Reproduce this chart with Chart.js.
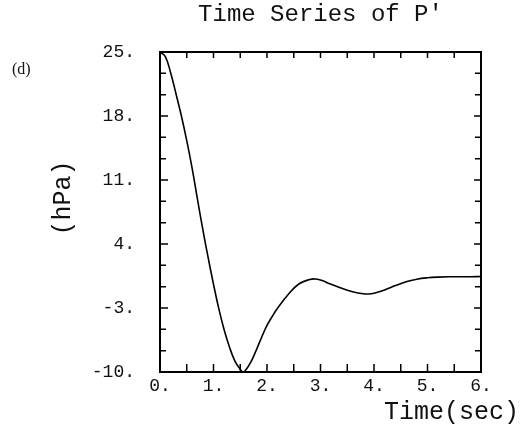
<!DOCTYPE html>
<html>
<head>
<meta charset="utf-8">
<script src="https://cdn.jsdelivr.net/npm/chart.js@4/dist/chart.umd.min.js"></script>
<style>
  html, body { margin: 0; padding: 0; background: #fff; }
  #wrap { width: 530px; height: 439px; }
</style>
</head>
<body>
<div id="wrap"><canvas id="chart" width="530" height="439"></canvas></div>
<script>
// time (sec) and pressure perturbation P' (hPa)
const timeSec = [0, 0.1, 0.2, 0.3, 0.4, 0.5, 0.6, 0.7, 0.8, 0.9, 1.0, 1.1, 1.2, 1.3, 1.4, 1.5, 1.55,
                 1.6, 1.7, 1.8, 1.9, 2.0, 2.1, 2.2, 2.4, 2.6, 2.8, 2.9, 3.0, 3.2, 3.4, 3.6, 3.8, 3.9, 4.0,
                 4.2, 4.4, 4.6, 4.8, 5.0, 5.2, 5.4, 5.8, 6.0];
const pressure = [25.0, 24.5, 22.7, 20.4, 18.0, 15.3, 12.3, 8.9, 5.6, 2.5, -0.4, -3.1, -5.4, -7.3, -8.8, -9.7, -10.0,
                  -9.8, -8.9, -7.6, -6.2, -4.9, -3.9, -3.0, -1.5, -0.35, 0.12, 0.18, 0.05, -0.4, -0.85, -1.22, -1.45, -1.47, -1.38,
                  -1.02, -0.55, -0.12, 0.15, 0.3, 0.38, 0.42, 0.42, 0.45];

// axis ticks
const xTickLabels = [0, 1, 2, 3, 4, 5, 6];
const xTickMarks = [0.5, 1, 1.5, 2, 2.5, 3, 3.5, 4, 4.5, 5, 5.5];
const yTickLabels = [-10, -3, 4, 11, 18, 25];
const yMinorMarks = [-7.667, -5.333, -0.667, 1.667, 6.333, 8.667, 13.333, 15.667, 20.333, 22.667];

const MONO = '"Liberation Mono", "DejaVu Sans Mono", monospace';

// box, inward ticks and text labels
const framePlugin = {
    id: 'frame',
    afterDraw(chart) {
        const ctx = chart.ctx;
        const a = chart.chartArea;
        const xs = chart.scales.x;
        const ys = chart.scales.y;
        ctx.save();
        ctx.strokeStyle = '#000';
        ctx.lineWidth = 2;
        ctx.strokeRect(a.left, a.top, a.right - a.left, a.bottom - a.top);

        ctx.lineWidth = 1.5;
        ctx.beginPath();
        xTickMarks.forEach(v => {
            const px = xs.getPixelForValue(v);
            ctx.moveTo(px, a.bottom); ctx.lineTo(px, a.bottom - 8);
            ctx.moveTo(px, a.top); ctx.lineTo(px, a.top + 6);
        });
        yTickLabels.forEach(v => {
            const py = ys.getPixelForValue(v);
            ctx.moveTo(a.left, py); ctx.lineTo(a.left + 8, py);
            ctx.moveTo(a.right, py); ctx.lineTo(a.right - 7, py);
        });
        yMinorMarks.forEach(v => {
            const py = ys.getPixelForValue(v);
            ctx.moveTo(a.left, py); ctx.lineTo(a.left + 6, py);
            ctx.moveTo(a.right, py); ctx.lineTo(a.right - 6, py);
        });
        ctx.stroke();

        ctx.fillStyle = '#111';
        ctx.textBaseline = 'middle';
        // main title
        ctx.font = '24px ' + MONO;
        ctx.textAlign = 'center';
        ctx.fillText("Time Series of P'", (a.left + a.right) / 2, 15);
        // x axis title
        ctx.font = '25px ' + MONO;
        ctx.textAlign = 'right';
        ctx.fillText('Time(sec)', 519, 412);
        // y axis title
        ctx.save();
        ctx.translate(63, 198);
        ctx.rotate(-Math.PI / 2);
        ctx.textAlign = 'center';
        ctx.fillText('(hPa)', 0, 0);
        ctx.restore();
        // panel label
        ctx.font = '16px "Liberation Serif", serif';
        ctx.textAlign = 'left';
        ctx.fillText('(d)', 12, 70);
        ctx.restore();
    }
};

const ctx = document.getElementById('chart').getContext('2d');
new Chart(ctx, {
    type: 'line',
    data: {
        datasets: [{
            data: timeSec.map((t, i) => ({ x: t, y: pressure[i] })),
            borderColor: '#000',
            borderWidth: 1.6,
            pointRadius: 0,
            fill: false,
            tension: 0.4
        }]
    },
    options: {
        responsive: false,
        animation: false,
        layout: { padding: { left: 0, top: 52, right: 49, bottom: 37 } },
        plugins: {
            legend: { display: false },
            title: { display: false },
            tooltip: { enabled: false }
        },
        scales: {
            x: {
                type: 'linear',
                min: 0,
                max: 6,
                afterFit: s => { s.height = 30; },
                afterBuildTicks: s => { s.ticks = xTickLabels.map(v => ({ value: v })); },
                grid: { display: false },
                border: { display: false },
                ticks: {
                    padding: -5,
                    color: '#111',
                    font: { family: MONO, size: 18 },
                    maxRotation: 0,
                    callback: v => v + '.'
                }
            },
            y: {
                min: -10,
                max: 25,
                afterFit: s => { s.width = 160; },
                afterBuildTicks: s => { s.ticks = yTickLabels.map(v => ({ value: v })); },
                grid: { display: false },
                border: { display: false },
                ticks: {
                    padding: 17,
                    color: '#111',
                    font: { family: MONO, size: 18 },
                    callback: v => v + '.'
                }
            }
        }
    },
    plugins: [framePlugin]
});
</script>
</body>
</html>
